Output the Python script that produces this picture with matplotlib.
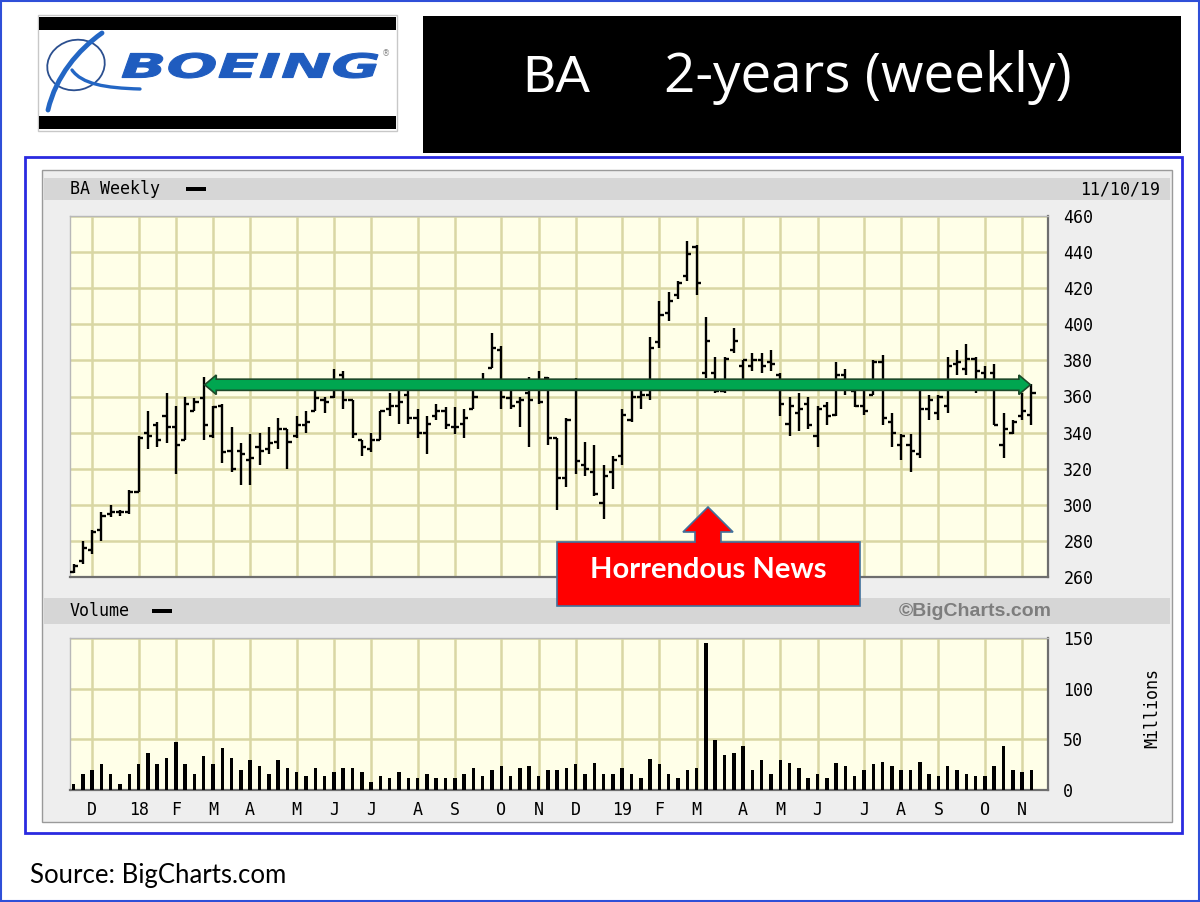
import matplotlib
matplotlib.use("Agg")
import matplotlib.pyplot as plt
import numpy as np
from matplotlib.patches import Rectangle, Polygon, Ellipse, PathPatch
from matplotlib.path import Path
from matplotlib.textpath import TextPath
from matplotlib.font_manager import FontProperties
from matplotlib.transforms import Affine2D

# ---------------- data ----------------
opens = [263, 269, 275, 286, 295, 296, 296, 307, 340, 344, 349, 343, 336, 352, 359, 338, 355, 330,
         330, 325, 332, 331, 335, 342, 338, 344, 352, 358, 360, 372, 358, 336, 331, 336, 353, 355,
         361, 348, 340, 349, 352, 343, 345, 353, 366, 376, 386, 359, 357, 362, 368, 370, 337, 315,
         365, 322, 318, 301, 318, 327, 347, 360, 361, 390, 406, 416, 427, 443, 373, 373, 363, 386,
         377, 377, 380, 379, 372, 345, 351, 356, 338, 355, 350, 372, 363, 355, 361, 379, 346, 333,
         333, 328, 353, 351, 355, 378, 375, 381, 373, 373, 333, 340, 349, 350]
highs = [267, 280, 286, 296, 300, 297, 308, 338, 352, 346, 362, 355, 360, 359, 371, 355, 356, 343,
         334, 339, 340, 343, 348, 342, 349, 352, 364, 360, 375, 374, 358, 336, 340, 352, 362, 363,
         364, 353, 349, 356, 354, 354, 353, 364, 373, 395, 388, 364, 360, 371, 374, 371, 337, 348,
         370, 335, 333, 322, 327, 353, 363, 363, 393, 413, 418, 424, 446, 444, 404, 382, 382, 398,
         380, 384, 384, 386, 373, 360, 362, 360, 355, 357, 379, 375, 364, 365, 380, 383, 351, 339,
         339, 366, 361, 361, 382, 386, 389, 382, 377, 378, 351, 347, 362, 367]
lows = [262, 267, 273, 280, 293, 294, 295, 307, 331, 332, 334, 317, 336, 352, 336, 337, 323, 318,
        311, 311, 322, 328, 331, 320, 337, 340, 352, 351, 359, 353, 337, 327, 329, 336, 349, 345,
        345, 337, 328, 347, 342, 339, 337, 353, 363, 376, 353, 353, 343, 332, 356, 333, 297, 310,
        317, 316, 305, 292, 309, 322, 346, 353, 358, 387, 402, 414, 424, 416, 370, 362, 362, 384,
        363, 374, 373, 374, 349, 338, 341, 342, 332, 344, 349, 361, 354, 350, 361, 344, 332, 325,
        318, 326, 347, 347, 351, 372, 372, 362, 368, 344, 326, 339, 347, 344]
closes = [266, 276, 285, 294, 296, 296, 307, 337, 338, 336, 343, 333, 356, 357, 344, 354, 329, 320,
          328, 326, 330, 334, 342, 335, 344, 346, 359, 357, 366, 358, 339, 332, 336, 352, 355, 357,
          348, 340, 345, 352, 344, 343, 348, 360, 368, 387, 360, 355, 358, 358, 357, 337, 315, 347,
          324, 320, 306, 316, 325, 350, 360, 361, 387, 405, 413, 423, 439, 423, 391, 363, 381, 391,
          380, 380, 377, 378, 356, 355, 353, 344, 353, 349, 372, 364, 355, 352, 379, 348, 340, 338,
          330, 353, 358, 360, 377, 379, 381, 374, 369, 344, 342, 346, 352, 362]
volumes = [6, 16, 20, 26, 16, 6, 16, 26, 37, 26, 32, 47, 26, 16, 34, 26, 41, 32, 20, 30, 24, 16, 30,
           22, 18, 14, 22, 14, 18, 22, 22, 18, 8, 14, 12, 18, 12, 12, 16, 12, 12, 12, 16, 22, 14, 20,
           24, 14, 22, 24, 14, 20, 20,
           22, 26, 16, 27, 16, 16, 22, 16, 12, 31, 26, 16, 12, 20, 22, 145, 49, 35, 37, 43, 20, 30,
           16, 30, 27, 22, 12, 16, 12, 27, 24, 14, 20, 26, 28, 24, 20, 20, 28, 16, 14, 24, 20, 16,
           14, 14, 24, 43, 20, 18, 20]
month_labels = ["D", "18", "F", "M", "A", "M", "J", "J", "A", "S", "O", "N",
                "D", "19", "F", "M", "A", "M", "J", "J", "A", "S", "O", "N"]
month_start_week = [2, 7, 11, 15, 19, 24, 28, 32, 37, 41, 46, 50,
                    54, 59, 63, 67, 72, 76, 80, 85, 89, 93, 98, 102]
price_ticks = [260, 280, 300, 320, 340, 360, 380, 400, 420, 440, 460]
volume_ticks = [0, 50, 100, 150]
resistance_level = 366.5
resistance_from_week = 14.1
resistance_to_week = 102.9

weeks = np.arange(len(closes))

# ---------------- figure ----------------
W, H = 1200, 902
fig = plt.figure(figsize=(12, 9.02), dpi=100)
fig.patch.set_facecolor("white")


def rect(x0, y0, x1, y1):
    return [x0 / W, 1 - y1 / H, (x1 - x0) / W, (y1 - y0) / H]


bg = fig.add_axes([0, 0, 1, 1], zorder=0)
bg.set_xlim(0, W)
bg.set_ylim(H, 0)
bg.axis("off")

# outer border
bg.add_patch(Rectangle((1, 1), W - 2, H - 2, fill=False, ec="#2f4fd8", lw=1.5))

# ---- Boeing logo box ----
bg.add_patch(Rectangle((38, 15), 359, 116, fc="white", ec="#c8c8c8", lw=1))
bg.add_patch(Rectangle((39, 17), 357, 13, fc="black", ec="none"))
bg.add_patch(Rectangle((39, 116), 357, 13, fc="black", ec="none"))
tp = TextPath((0, 0), "BOEING", size=1,
              prop=FontProperties(family="DejaVu Sans", weight="bold", style="italic"))
ext = tp.get_extents()
tr = (Affine2D().translate(-ext.x0, -ext.y0)
      .scale(256 / ext.width, -25 / ext.height).translate(122, 78) + bg.transData)
bg.add_patch(PathPatch(tp, fc="#1f5cbf", ec="#1f5cbf", lw=0.8, transform=tr))
bg.text(386, 54, "®", fontsize=6, color="#888888", ha="center", va="center")
bg.add_patch(Ellipse((76, 65), 58, 50, angle=-15, fill=False, ec="#2b4f8f", lw=1.3))
sw = Path([(48, 110), (56, 76), (78, 50), (102, 33)],
          [Path.MOVETO, Path.CURVE4, Path.CURVE4, Path.CURVE4])
bg.add_patch(PathPatch(sw, fill=False, ec="#2366c4", lw=3.5, capstyle="round"))
wing = Path([(72, 70), (82, 84), (105, 88), (140, 89)],
            [Path.MOVETO, Path.CURVE4, Path.CURVE4, Path.CURVE4])
bg.add_patch(PathPatch(wing, fill=False, ec="#2366c4", lw=2.4, capstyle="round"))

# ---- title box ----
bg.add_patch(Rectangle((423, 16), 758, 137, fc="black", ec="none"))
bg.text(522, 92, "BA", color="white", fontsize=37, family="Lato", va="baseline", ha="left")
bg.text(664, 92, "2-years (weekly)", color="white", fontsize=39.5, family="Open Sans",
        va="baseline", ha="left")

# ---- chart frame ----
bg.add_patch(Rectangle((25, 157), 1157, 676, fc="white", ec="#2a2ae0", lw=2))
bg.add_patch(Rectangle((42, 170), 1130, 652, fc="#eeeeee", ec="#9a9a9a", lw=1))
bg.add_patch(Rectangle((44, 178), 1126, 22, fc="#d6d6d6", ec="none"))
bg.add_patch(Rectangle((44, 598), 1126, 26, fc="#d6d6d6", ec="none"))
mono = "DejaVu Sans Mono"
bg.text(70, 189, "BA Weekly", family=mono, fontsize=12, va="center", ha="left")
bg.add_patch(Rectangle((186, 187), 20, 4, fc="black", ec="none"))
bg.text(1160, 189, "11/10/19", family=mono, fontsize=12, va="center", ha="right")
bg.text(70, 611, "Volume", family=mono, fontsize=12, va="center", ha="left")
bg.add_patch(Rectangle((152, 609), 20, 4, fc="black", ec="none"))
bg.text(1052, 611, "©BigCharts.com", family="Liberation Sans", weight="bold",
        fontsize=14, color="#7d7d7d", va="center", ha="right")
bg.text(1152, 708, "Millions", family=mono, fontsize=12, rotation=90,
        va="center", ha="center")

# source
bg.text(30, 876, "Source: BigCharts.com", family="Lato", fontsize=18.5, va="center", ha="left")

grid_col = "#d9d7a4"
plot_bg = "#ffffe8"
x_lo = (70 - 73.5) / 9.3
x_hi = (1048 - 73.5) / 9.3

# ---- price panel ----
ax = fig.add_axes(rect(70, 216, 1048, 577), zorder=1)
ax.set_facecolor(plot_bg)
ax.set_xlim(x_lo, x_hi)
ax.set_ylim(260, 460)
ax.set_xticks(month_start_week)
ax.set_xticklabels([])
ax.set_yticks(price_ticks)
ax.yaxis.tick_right()
ax.tick_params(axis="both", length=0)
ax.tick_params(axis="y", pad=11, labelsize=12)
for lab in ax.get_yticklabels():
    lab.set_family(mono)
ax.grid(True, color=grid_col, lw=1.8)
ax.set_axisbelow(True)
for s in ax.spines.values():
    s.set_color("#b8b8b8")
    s.set_linewidth(1)
ax.spines["bottom"].set_color("#6e6e6e")
ax.spines["bottom"].set_linewidth(1.6)
ax.spines["right"].set_color("#6e6e6e")
ax.spines["right"].set_linewidth(1.6)

ax.vlines(weeks, lows, highs, color="black", lw=1.7, zorder=3)
ax.hlines(opens, weeks - 0.45, weeks, color="black", lw=1.7, zorder=3)
ax.hlines(closes, weeks, weeks + 0.45, color="black", lw=1.7, zorder=3)

# green double arrow (resistance)
hl, sh, hh = 1.25, 3.1, 5.4
y0 = resistance_level
xa, xb = resistance_from_week, resistance_to_week
arrow_pts = [(xa, y0), (xa + hl, y0 + hh), (xa + hl, y0 + sh), (xb - hl, y0 + sh),
             (xb - hl, y0 + hh), (xb, y0), (xb - hl, y0 - hh), (xb - hl, y0 - sh),
             (xa + hl, y0 - sh), (xa + hl, y0 - hh)]
ax.add_patch(Polygon(arrow_pts, closed=True, fc="#00a650", ec="#1d4a2a", lw=1.2, zorder=5))

# ---- volume panel ----
av = fig.add_axes(rect(70, 638, 1048, 790), zorder=1)
av.set_facecolor(plot_bg)
av.set_xlim(x_lo, x_hi)
av.set_ylim(0, 150)
av.set_yticks(volume_ticks)
av.yaxis.tick_right()
av.set_xticks(month_start_week)
av.set_xticklabels(month_labels)
av.tick_params(axis="both", length=0, labelsize=12)
av.tick_params(axis="y", pad=11)
av.tick_params(axis="x", pad=8)
for lab in av.get_yticklabels() + av.get_xticklabels():
    lab.set_family(mono)
av.grid(True, color=grid_col, lw=1.8)
av.set_axisbelow(True)
for s in av.spines.values():
    s.set_color("#b8b8b8")
    s.set_linewidth(1)
av.spines["bottom"].set_color("#6e6e6e")
av.spines["bottom"].set_linewidth(1.6)
av.spines["right"].set_color("#6e6e6e")
av.spines["right"].set_linewidth(1.6)
av.bar(weeks, volumes, width=0.38, color="black", zorder=3)

# ---- top overlay: red callout ----
top = fig.add_axes([0, 0, 1, 1], zorder=3)
top.set_xlim(0, W)
top.set_ylim(H, 0)
top.axis("off")
top.patch.set_alpha(0)
callout = [(557, 542), (695, 542), (695, 532), (683, 532), (708, 507), (733, 532),
           (721, 532), (721, 542), (860, 542), (860, 606), (557, 606)]
top.add_patch(Polygon(callout, closed=True, fc="#ff0000", ec="#41719c", lw=1.2))
top.text(708, 570, "Horrendous News", color="white", fontsize=21, family="Lato",
         weight="bold", ha="center", va="center")

fig.savefig("out.png", dpi=100)
